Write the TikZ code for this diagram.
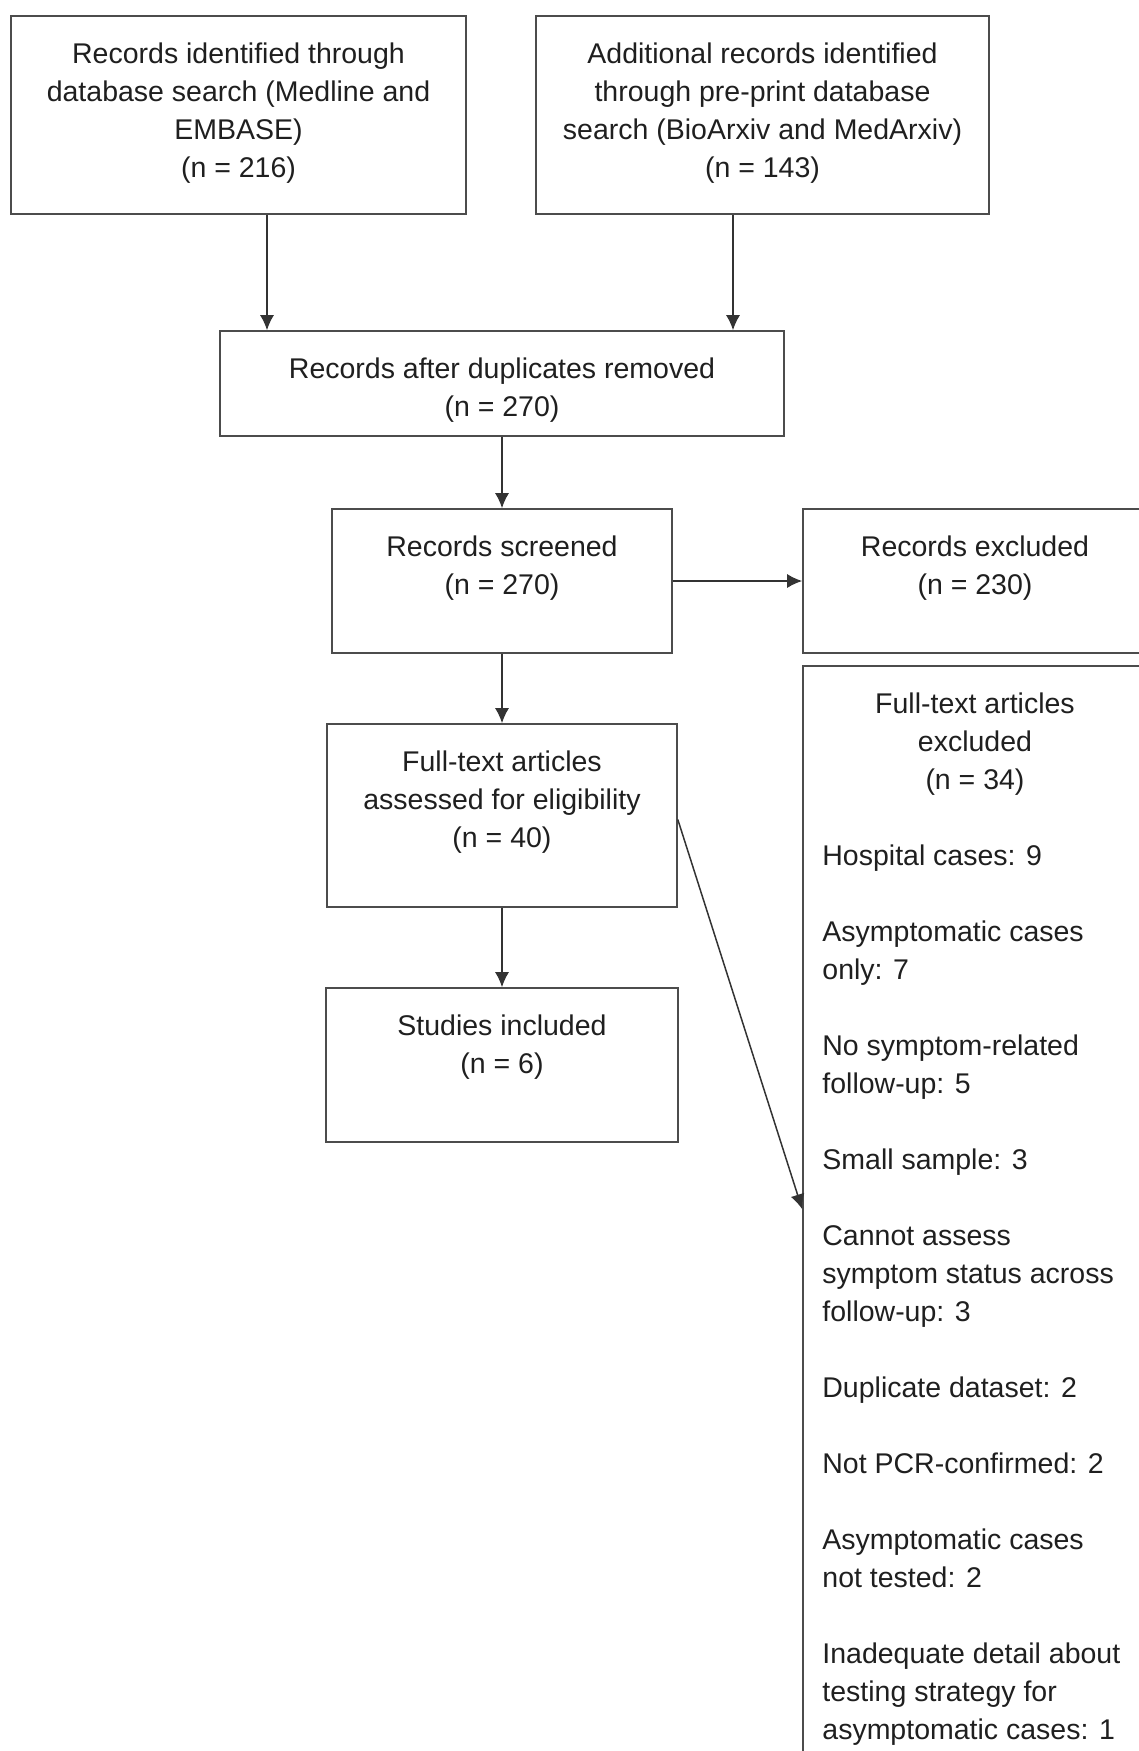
\documentclass[tikz,border=0pt]{standalone}
\usepackage{fontspec}
\setmainfont{Liberation Sans}
\usetikzlibrary{positioning,arrows.meta}
\tikzset{
  box/.style={draw=black!70, line width=1.6pt, inner sep=0pt},
  txt/.style={inner sep=0pt, align=center, text=black!88, font=\fontsize{28.5}{38}\selectfont},
  arr/.style={draw=black!80, line width=1.5pt, -{Latex[length=15pt,width=14pt]}}
}
\begin{document}
\begin{tikzpicture}[x=1pt,y=-1pt]
    \useasboundingbox (0,0) rectangle (1139,1751);

    % Identificazione
    \node[box, minimum width=455pt, minimum height=198pt] (db) at (238.5,115) {};
    \node[txt, below=27pt of db.north] (dbtxt) {Records identified through\\database search (Medline and\\EMBASE)\\(n = 216)};

    \node[box, minimum width=453pt, minimum height=198pt] (pre) at (762.5,115) {};
    \node[txt, below=27pt of pre.north] (pretxt) {Additional records identified\\through pre-print database\\search (BioArxiv and MedArxiv)\\(n = 143)};

    % Duplicati
    \node[box, minimum width=564pt, minimum height=105pt] (dup) at (502,383.5) {};
    \node[txt, below=27pt of dup.north] (duptxt) {Records after duplicates removed\\(n = 270)};

    % Screening
    \node[box, minimum width=340pt, minimum height=144pt] (scr) at (502,581) {};
    \node[txt, below=27pt of scr.north] (scrtxt) {Records screened\\(n = 270)};

    \node[box, minimum width=344pt, minimum height=144pt] (exc) at (975,581) {};
    \node[txt, below=27pt of exc.north] (exctxt) {Records excluded\\(n = 230)};

    % Eleggibilita
    \node[box, minimum width=350pt, minimum height=183pt] (full) at (502,815.5) {};
    \node[txt, below=27pt of full.north] (fulltxt) {Full-text articles\\assessed for eligibility\\(n = 40)};

    \node[box, minimum width=344pt, minimum height=1094pt] (ftex) at (975,1213) {};
    \node[txt, below=27pt of ftex.north] (ftextxt) {Full-text articles\\excluded\\(n = 34)};
    \node[txt, align=left, anchor=north west] (reasons) at ([xshift=20pt,yshift=-179pt]ftex.north west) {%
        Hospital cases: 9\\[38pt]
        Asymptomatic cases\\only: 7\\[38pt]
        No symptom-related\\follow-up: 5\\[38pt]
        Small sample: 3\\[38pt]
        Cannot assess\\symptom status across\\follow-up: 3\\[38pt]
        Duplicate dataset: 2\\[38pt]
        Not PCR-confirmed: 2\\[38pt]
        Asymptomatic cases\\not tested: 2\\[38pt]
        Inadequate detail about\\testing strategy for\\asymptomatic cases: 1};

    % Inclusi
    \node[box, minimum width=352pt, minimum height=154pt] (inc) at (502,1065) {};
    \node[txt, below=27pt of inc.north] (inctxt) {Studies included\\(n = 6)};

    % Frecce
    \draw[arr] ([xshift=28.5pt]db.south) -- ([xshift=28.5pt]db.south |- dup.north);
    \draw[arr] ([xshift=-29.5pt]pre.south) -- ([xshift=-29.5pt]pre.south |- dup.north);
    \draw[arr] (dup) -- (scr);
    \draw[arr] (scr.east) -- (exc.west);
    \draw[arr] (scr) -- (full);
    \draw[arr] (full) -- (inc);
    \draw[arr] ([yshift=-4pt]full.east) -- ([yshift=-544pt]ftex.north west);
\end{tikzpicture}
\end{document}
